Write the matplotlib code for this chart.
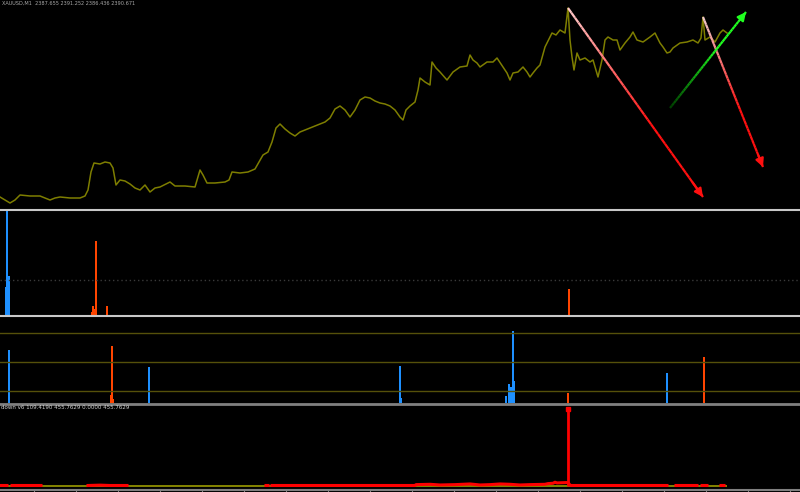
import numpy as np
import matplotlib
matplotlib.use('Agg')
import matplotlib.pyplot as plt
from matplotlib.collections import LineCollection
from matplotlib.lines import Line2D

# price (bar number, close)
bars = [0, 5, 10, 15, 20, 30, 40, 50, 55, 60, 70, 80, 85, 88, 91, 94, 100, 105, 110, 113,
        116, 120, 125, 130, 135, 140, 145, 150, 155, 160, 170, 175, 185, 195, 200, 203, 207, 215, 225, 229,
        232, 240, 248, 255, 259, 263, 268, 272, 276, 280, 285, 290, 295, 300, 305, 310, 320, 325, 330, 335,
        340, 345, 350, 355, 360, 365, 370, 375, 380, 385, 390, 395, 400, 403, 406, 410, 415, 418, 420, 425,
        430, 432, 436, 440, 447, 453, 460, 467, 470, 473, 477, 480, 487, 493, 497, 503, 507, 510, 513, 518,
        523, 527, 530, 533, 537, 540, 545, 552, 556, 560, 565, 568, 570, 572, 574, 577, 580, 585, 590, 593,
        598, 602, 605, 608, 613, 617, 620, 625, 630, 633, 637, 643, 650, 655, 660, 663, 667, 670, 673, 680,
        687, 693, 698, 701, 703, 705, 710, 715, 720, 723, 727]
close = [2349.75, 2349.0, 2348.25, 2349.0, 2350.25, 2350.0, 2350.0, 2349.0, 2349.5, 2349.75, 2349.5, 2349.5, 2350.0, 2351.5, 2356.0, 2358.25, 2358.0, 2358.5, 2358.25, 2357.0,
         2352.75, 2354.0, 2353.75, 2353.0, 2352.0, 2351.5, 2352.75, 2351.0, 2352.0, 2352.25, 2353.5, 2352.5, 2352.5, 2352.25, 2356.5, 2355.25, 2353.25, 2353.25, 2353.5, 2354.0,
         2356.0, 2355.75, 2356.0, 2356.75, 2358.5, 2360.25, 2361.0, 2363.5, 2367.0, 2368.0, 2366.75, 2365.75, 2365.0, 2366.0, 2366.5, 2367.0, 2368.0, 2368.5, 2369.5, 2371.75,
         2372.5, 2371.5, 2369.75, 2371.5, 2374.0, 2374.75, 2374.5, 2373.75, 2373.25, 2373.0, 2372.5, 2371.5, 2369.75, 2369.0, 2371.5, 2372.5, 2373.5, 2376.5, 2379.5, 2378.5,
         2377.75, 2383.5, 2382.0, 2381.0, 2379.0, 2381.0, 2382.25, 2382.5, 2385.25, 2384.0, 2383.25, 2382.25, 2383.5, 2383.5, 2384.5, 2382.25, 2380.75, 2379.0, 2380.75, 2381.0,
         2382.25, 2381.0, 2379.75, 2380.75, 2382.0, 2382.75, 2387.25, 2390.75, 2390.25, 2391.5, 2390.75, 2397.0, 2389.0, 2384.75, 2381.5, 2385.75, 2384.0, 2384.5, 2383.5, 2384.0,
         2379.75, 2384.0, 2389.0, 2389.75, 2389.0, 2389.0, 2386.5, 2388.25, 2389.75, 2391.0, 2389.0, 2388.5, 2389.75, 2390.75, 2388.25, 2387.25, 2385.75, 2386.0, 2387.0, 2388.25,
         2388.5, 2389.0, 2388.25, 2389.5, 2394.75, 2389.0, 2389.75, 2388.5, 2390.75, 2391.5, 2390.75]

# trend arrows: start bar, start price, end bar, end price
arr_x0 = [568, 703, 670]
arr_y0 = [2397.0, 2394.75, 2372.0]
arr_x1 = [703, 763, 746]
arr_y1 = [2349.75, 2357.25, 2396.0]
arr_c0 = ['#ffc8c8', '#f0c8c8', '#004000']
arr_c1 = ['#ff1010', '#ff1010', '#20ff20']

# indicator 1 histogram
h1_blue_x = [6, 7, 9]
h1_blue_v = [28, 104, 39]
h1_red_x = [92, 93, 95, 96, 107, 569]
h1_red_v = [3, 9, 6, 74, 9, 26]
h1_level = 35

# indicator 2 histogram
h2_blue_x = [9, 149, 400, 401, 506, 509, 511, 513, 514, 667]
h2_blue_v = [53, 36, 37, 5, 7, 19, 16, 72, 22, 30]
h2_red_x = [111, 112, 113, 568, 704]
h2_red_v = [8, 57, 4, 10, 46]
h2_levels = [12, 41, 70]

# down v6
nan = np.nan
down_x = [0, 7, 8, 12, 41, 42, 88, 100, 110, 127, 128, 266, 268, 269, 272, 330, 415, 416, 430, 440,
          455, 470, 480, 490, 500, 510, 520, 530, 545, 548, 553, 555, 557, 566, 568, 570, 571, 600, 667,
          668, 676, 697, 698, 702, 707, 708, 721, 724]
down_v = [3, 3, nan, 3, 3, nan, 3, 5, 3, 3, nan, 3, 3, nan, 3, 3, 3, 8, 10, 6,
          8, 12, 6, 8, 12, 10, 6, 8, 10, 14, 16, 22, 18, 20, 455.7629, 5, 3, 3, 3,
          nan, 3, 3, nan, 3, 3, nan, 3, 3]

W, H = 800, 492
fig = plt.figure(figsize=(8, 4.92), dpi=100, facecolor='black')

def panel(top, bottom):
    ax = fig.add_axes([0, 1 - bottom / H, 1, (bottom - top) / H])
    ax.set_facecolor('black')
    ax.set_xlim(0, 800)
    ax.set_xticks([])
    ax.set_yticks([])
    for s in ax.spines.values():
        s.set_visible(False)
    return ax

ax1 = panel(0, 209)
ax2 = panel(211, 315)
ax3 = panel(316, 403)
ax4 = panel(404, 489)

# price
ax1.plot(bars, close, color='#7e7e00', lw=1.1)
ax1.set_ylim(2346.75, 2399)
for i in range(3):
    n = 40
    xs = np.linspace(arr_x0[i], arr_x1[i], n)
    ys = np.linspace(arr_y0[i], arr_y1[i], n)
    pts = np.array([xs, ys]).T.reshape(-1, 1, 2)
    segs = np.concatenate([pts[:-1], pts[1:]], axis=1)
    c0 = np.array(matplotlib.colors.to_rgb(arr_c0[i]))
    c1 = np.array(matplotlib.colors.to_rgb(arr_c1[i]))
    t = np.clip(np.linspace(0, 1, n - 1) * 1.6, 0, 1)[:, None]
    cols = c0 * (1 - t) + c1 * t
    ax1.add_collection(LineCollection(segs, colors=cols, lw=1.6, zorder=5))
    ax1.annotate('', xy=(arr_x1[i], arr_y1[i]), xytext=(xs[-4], ys[-4]),
                 arrowprops=dict(arrowstyle='-|>', color=arr_c1[i], lw=1.6,
                                 mutation_scale=12, shrinkA=0, shrinkB=0), zorder=6)

# indicator 1
ax2.set_ylim(0, 104)
ax2.axhline(h1_level, color='#3a3a3a', lw=1, ls=(0, (1, 2)))
ax2.bar(h1_blue_x, h1_blue_v, width=1.6, color='#1e90ff', align='center')
ax2.bar(h1_red_x, h1_red_v, width=1.6, color='#ff4500', align='center')

# indicator 2
ax3.set_ylim(0, 87)
for lv in h2_levels:
    ax3.axhline(lv, color='#55500a', lw=1)
ax3.bar(h2_blue_x, h2_blue_v, width=1.6, color='#1e90ff', align='center')
ax3.bar(h2_red_x, h2_red_v, width=1.6, color='#ff4500', align='center')

# down v6: line plus the spike as a thin stick
ax4.set_ylim(-17.5, 479)
ax4.hlines(0, bars[0], bars[-1], color='#8f8f00', lw=1.3)
dx = np.array(down_x, dtype=float)
dv = np.array(down_v, dtype=float)
big = dv > 100
line_v = dv.copy()
line_v[big] = dv[np.where(big)[0] - 1]
ax4.plot(dx, line_v, color='#ff0000', lw=2.2)
ax4.vlines(dx[big], 0, dv[big], color='#ff0000', lw=2)
ax4.plot(dx[big], dv[big] - 8, 's', color='#ff0000', ms=3)

# separators and time axis
for y, c, lw in [(210, '#c8c8c8', 1.5), (315.5, '#c8c8c8', 1.5), (403.5, '#808080', 2), (489.5, '#808080', 1.5)]:
    fig.add_artist(Line2D([0, 1], [1 - y / H, 1 - y / H], color=c, lw=lw))
for x in np.arange(34, 800, 42):
    fig.add_artist(Line2D([x / W, x / W], [1 - 489.5 / H, 0], color='#808080', lw=0.8))

fig.text(0.002, 0.998, 'XAUUSD,M1  2387.655 2391.252 2386.436 2390.671', color='#a8a8a8',
         fontsize=3.6, va='top', ha='left')
fig.text(0.001, 1 - 405 / H, 'down v6 109.4190 455.7629 0.0000 455.7629', color='#d0d0d0',
         fontsize=4, va='top', ha='left')

fig.savefig('out.png', dpi=100, facecolor='black')
